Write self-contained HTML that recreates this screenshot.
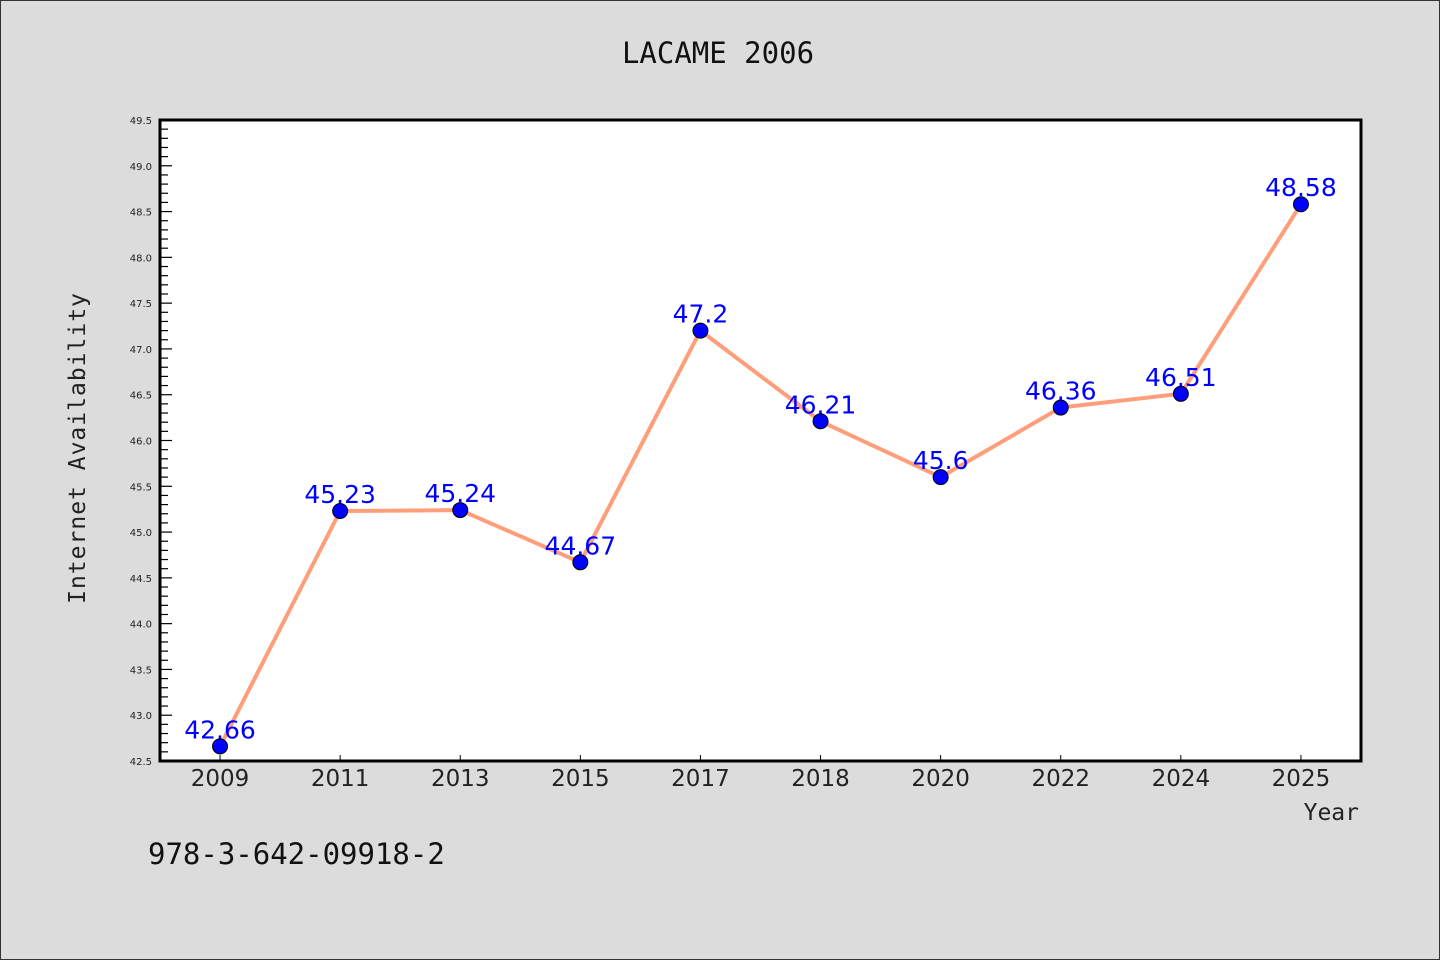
<!DOCTYPE html>
<html><head><meta charset="utf-8"><style>
html,body{margin:0;padding:0;background:#dcdcdc;}
svg{display:block;}
</style></head><body>
<svg id="chart" width="1440" height="960" xmlns="http://www.w3.org/2000/svg">
<rect x="0.5" y="0.5" width="1439" height="959" fill="#dcdcdc" stroke="#333"/>
<text x="718" y="63" text-anchor="middle" font-family="DejaVu Sans Mono, monospace" font-size="29" fill="#111">LACAME 2006</text>
<rect x="160" y="120" width="1201" height="641" fill="#fff"/>
<g id="yaxis"></g>
<g id="xaxis"></g>
<g id="series"></g>
<rect x="160" y="120" width="1201" height="641" fill="none" stroke="#000" stroke-width="3"/>
<text x="0" y="0" transform="translate(85,448) rotate(-90)" text-anchor="middle" font-family="DejaVu Sans Mono, monospace" font-size="23" fill="#222" letter-spacing="1">Internet Availability</text>
<text x="1359" y="820" text-anchor="end" font-family="DejaVu Sans Mono, monospace" font-size="23" fill="#222">Year</text>
<text x="148" y="864" font-family="DejaVu Sans Mono, monospace" font-size="29" fill="#111">978-3-642-09918-2</text>
</svg>
<script>
const categories = ["2009","2011","2013","2015","2017","2018","2020","2022","2024","2025"];
const values = [42.66,45.23,45.24,44.67,47.2,46.21,45.6,46.36,46.51,48.58];
const valueLabels = ["42.66","45.23","45.24","44.67","47.2","46.21","45.6","46.36","46.51","48.58"];
const yTicks = ["42.5","43.0","43.5","44.0","44.5","45.0","45.5","46.0","46.5","47.0","47.5","48.0","48.5","49.0","49.5"];
const yMin = 42.5, yMax = 49.5;
const L=160,R=1361,T=120,B=761;
const NS="http://www.w3.org/2000/svg";
function y(v){return B-(v-yMin)/(yMax-yMin)*(B-T);}
function x(i){const w=(R-L)/categories.length;return L+w*(i+0.5);}
function mk(tag,attrs,parent){const e=document.createElementNS(NS,tag);for(const k in attrs)e.setAttribute(k,attrs[k]);parent.appendChild(e);return e;}
const ya=document.getElementById('yaxis'),xa=document.getElementById('xaxis'),sg=document.getElementById('series');
for(let k=0;k<=Math.round((yMax-yMin)*10);k++){
  const v=yMin+k*0.1, yy=y(v), major=k%5===0;
  const t=mk('line',{x1:L,x2:L+(major?12:8),y1:yy,y2:yy,stroke:'#000','stroke-width':1.2},ya);
  
  
}
yTicks.forEach(s=>{
  const t=mk('text',{x:L-8,y:y(parseFloat(s))+4,'text-anchor':'end','font-family':'DejaVu Sans, sans-serif','font-size':10,fill:'#222'},ya);
  t.textContent=s;
  
  
});
categories.forEach((c,i)=>{
  const t=mk('line',{x1:x(i),x2:x(i),y1:B,y2:B-6,stroke:'#000','stroke-width':1},xa);
  
  
  const l=mk('text',{x:x(i),y:B+25,'text-anchor':'middle','font-family':'DejaVu Sans, sans-serif','font-size':23,fill:'#222'},xa);
  l.textContent=c;
  
  
});
const line=mk('polyline',{points:values.map((v,i)=>x(i)+','+y(v)).join(' '),fill:'none',stroke:'#ff9e7a','stroke-width':4,'stroke-linejoin':'round'},sg);


values.forEach((v,i)=>{
  const t=mk('text',{x:x(i),y:y(v)-8,'text-anchor':'middle','font-family':'DejaVu Sans, sans-serif','font-size':25,fill:'#0000ff'},sg);
  t.textContent=valueLabels[i];
  
  
});
values.forEach((v,i)=>{
  const p=mk('circle',{cx:x(i),cy:y(v),r:7.5,fill:'#0000ff',stroke:'#000','stroke-width':1},sg);
  
  
});
</script>
</body></html>
